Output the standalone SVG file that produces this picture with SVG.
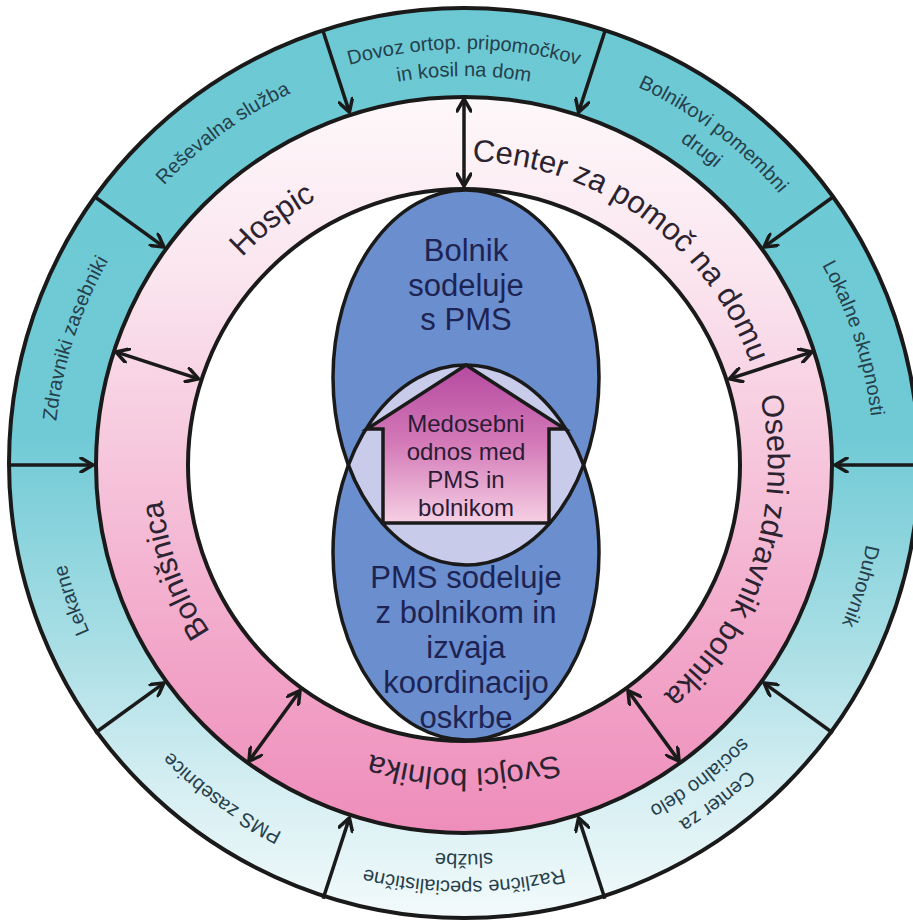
<svg xmlns="http://www.w3.org/2000/svg" width="913" height="921" viewBox="0 0 913 921">
<style>
.ln{stroke:#1a1a1a;stroke-width:4}
.arr{stroke:#1a1a1a;stroke-width:3.5;fill:none;marker-end:url(#ah)}
.dbl{marker-start:url(#ah)}
text{font-family:"Liberation Sans",Arial,Helvetica,sans-serif;text-anchor:middle}
.pk{font-size:31px;fill:#2b2330}
.cy{font-size:20px;fill:#26404b}
.el{font-size:31px;fill:#1d2352}
.hs{font-size:24px;fill:#2b1b35}
</style>
<defs>
<linearGradient id="gCyan" gradientUnits="userSpaceOnUse" x1="0" y1="0" x2="0" y2="921">
<stop offset="0" stop-color="#6cc9d4"/>
<stop offset="0.47" stop-color="#6fcad5"/>
<stop offset="0.7" stop-color="#a9dee5"/>
<stop offset="0.85" stop-color="#d4eef2"/>
<stop offset="1" stop-color="#f3fafb"/>
</linearGradient>
<linearGradient id="gPink" gradientUnits="userSpaceOnUse" x1="0" y1="97" x2="0" y2="835">
<stop offset="0" stop-color="#fef8fa"/>
<stop offset="0.25" stop-color="#fae4ee"/>
<stop offset="0.5" stop-color="#f6c5db"/>
<stop offset="0.75" stop-color="#f2a6c9"/>
<stop offset="1" stop-color="#ee8dbb"/>
</linearGradient>
<linearGradient id="gHouse" gradientUnits="userSpaceOnUse" x1="0" y1="365" x2="0" y2="523">
<stop offset="0" stop-color="#b54aa0"/>
<stop offset="0.5" stop-color="#d47ab8"/>
<stop offset="1" stop-color="#f6d0e4"/>
</linearGradient>
<clipPath id="clipTop"><ellipse cx="466" cy="377.5" rx="133" ry="187.5"/></clipPath>
<marker id="ah" markerUnits="userSpaceOnUse" viewBox="0 0 16 16" markerWidth="16" markerHeight="16" refX="14" refY="8" orient="auto-start-reverse">
<path d="M2,1 L14,8 L2,15" fill="none" stroke="#1a1a1a" stroke-width="3.5" stroke-linejoin="round" stroke-linecap="round"/>
</marker>
<path id="p304" d="M160,465 A304,304 0 0 1 768,465"/>
<path id="p410" d="M54,465 A410,410 0 0 1 874,465"/>
<path id="p416" d="M48,465 A416,416 0 0 1 880,465"/>
<path id="p389" d="M75,465 A389,389 0 0 1 853,465"/>
</defs>

<g id="rings">
<circle cx="464" cy="463" r="455" fill="url(#gCyan)" class="ln"/>
<circle cx="464" cy="465" r="368" fill="url(#gPink)" class="ln"/>
<circle cx="464" cy="465" r="276" fill="#ffffff" class="ln"/>
</g>

<g id="center">
<g id="ellipse-top">
<ellipse cx="466" cy="377.5" rx="133" ry="187.5" fill="#6b8ecf"/>
</g>
<g id="ellipse-bottom">
<ellipse cx="466" cy="552.5" rx="133" ry="187.5" fill="#6b8ecf"/>
</g>
<ellipse cx="466" cy="552.5" rx="133" ry="187.5" fill="#c8cbe9" clip-path="url(#clipTop)"/>
<ellipse cx="466" cy="377.5" rx="133" ry="187.5" fill="none" stroke="#1a1a1a" stroke-width="3.5"/>
<ellipse cx="466" cy="552.5" rx="133" ry="187.5" fill="none" stroke="#1a1a1a" stroke-width="3.5"/>
<g id="house">
<path d="M466,365 L565,429 L549,429 L549,523 L383,523 L383,429 L367,429 Z" fill="url(#gHouse)" stroke="#1a1a1a" stroke-width="3.5" stroke-linejoin="miter"/>
<text class="hs" x="466" y="432">Medosebni</text>
<text class="hs" x="466" y="460">odnos med</text>
<text class="hs" x="466" y="488">PMS in</text>
<text class="hs" x="466" y="516">bolnikom</text>
</g>
<g id="label-top">
<text class="el" x="466" y="261">Bolnik</text>
<text class="el" x="466" y="296">sodeluje</text>
<text class="el" x="466" y="330">s PMS</text>
</g>
<g id="label-bottom">
<text class="el" x="466" y="588">PMS sodeluje</text>
<text class="el" x="466" y="623">z bolnikom in</text>
<text class="el" x="466" y="658">izvaja</text>
<text class="el" x="466" y="693">koordinacijo</text>
<text class="el" x="466" y="728">oskrbe</text>
</g>
</g>

<g id="connectors">
<line class="arr" x1="604.9" y1="31.3" x2="578.6" y2="112.1"/>
<line class="arr" x1="832.9" y1="197" x2="764.1" y2="246.9"/>
<line class="arr" x1="920" y1="465" x2="835" y2="465"/>
<line class="arr" x1="832.9" y1="733" x2="764.1" y2="683.1"/>
<line class="arr" x1="604.9" y1="898.7" x2="578.6" y2="817.9"/>
<line class="arr" x1="323.1" y1="898.7" x2="349.4" y2="817.9"/>
<line class="arr" x1="95.1" y1="733" x2="163.9" y2="683.1"/>
<line class="arr" x1="8" y1="465" x2="93" y2="465"/>
<line class="arr" x1="95.1" y1="197" x2="163.9" y2="246.9"/>
<line class="arr" x1="323.1" y1="31.3" x2="349.4" y2="112.1"/>
<line class="arr dbl" x1="464" y1="99" x2="464" y2="186"/>
<line class="arr dbl" x1="812.1" y1="351.9" x2="729.4" y2="378.8"/>
<line class="arr dbl" x1="679.1" y1="761.1" x2="628" y2="690.7"/>
<line class="arr dbl" x1="248.9" y1="761.1" x2="300" y2="690.7"/>
<line class="arr dbl" x1="115.9" y1="351.9" x2="198.6" y2="378.8"/>
</g>

<g id="center-za-pomoc"><text class="pk" transform="rotate(36 464 465)"><textPath href="#p304" startOffset="50%">Center za pomoč na domu</textPath></text></g>
<g id="osebni-zdravnik"><text class="pk" transform="rotate(108 464 465)"><textPath href="#p304" startOffset="50%">Osebni zdravnik bolnika</textPath></text></g>
<g id="svojci"><text class="pk" transform="rotate(180 464 465)"><textPath href="#p304" startOffset="50%">Svojci bolnika</textPath></text></g>
<g id="bolnisnica"><text class="pk" transform="rotate(250 464 465)"><textPath href="#p304" startOffset="50%">Bolnišnica</textPath></text></g>
<g id="hospic"><text class="pk" transform="rotate(322 464 465)"><textPath href="#p304" startOffset="50%">Hospic</textPath></text></g>

<g id="dovoz">
<text class="cy"><textPath href="#p416" startOffset="50%">Dovoz ortop. pripomočkov</textPath></text>
<text class="cy"><textPath href="#p389" startOffset="50%">in kosil na dom</textPath></text>
</g>
<g id="bolnikovi-pomembni">
<text class="cy" transform="rotate(37 464 465)"><textPath href="#p416" startOffset="50%">Bolnikovi pomembni</textPath></text>
<text class="cy" transform="rotate(37 464 465)"><textPath href="#p389" startOffset="50%">drugi</textPath></text>
</g>
<g id="lokalne-skupnosti"><text class="cy" transform="rotate(72 464 465)"><textPath href="#p410" startOffset="50%">Lokalne skupnosti</textPath></text></g>
<g id="duhovnik"><text class="cy" transform="rotate(107 464 465)"><textPath href="#p410" startOffset="50%">Duhovnik</textPath></text></g>
<g id="center-socialno">
<text class="cy" transform="rotate(143 464 465)"><textPath href="#p416" startOffset="50%">Center za</textPath></text>
<text class="cy" transform="rotate(143 464 465)"><textPath href="#p389" startOffset="50%">socialno delo</textPath></text>
</g>
<g id="razlicne-sluzbe">
<text class="cy" transform="rotate(180 464 465)"><textPath href="#p416" startOffset="50%">Različne specialistične</textPath></text>
<text class="cy" transform="rotate(180 464 465)"><textPath href="#p389" startOffset="50%">službe</textPath></text>
</g>
<g id="pms-zasebnice"><text class="cy" transform="rotate(216 464 465)"><textPath href="#p410" startOffset="50%">PMS zasebnice</textPath></text></g>
<g id="lekarne"><text class="cy" transform="rotate(251 464 465)"><textPath href="#p410" startOffset="50%">Lekarne</textPath></text></g>
<g id="zdravniki-zasebniki"><text class="cy" transform="rotate(288 464 465)"><textPath href="#p410" startOffset="50%">Zdravniki zasebniki</textPath></text></g>
<g id="resevalna"><text class="cy" transform="rotate(324 464 465)"><textPath href="#p410" startOffset="50%">Reševalna služba</textPath></text></g>
</svg>
